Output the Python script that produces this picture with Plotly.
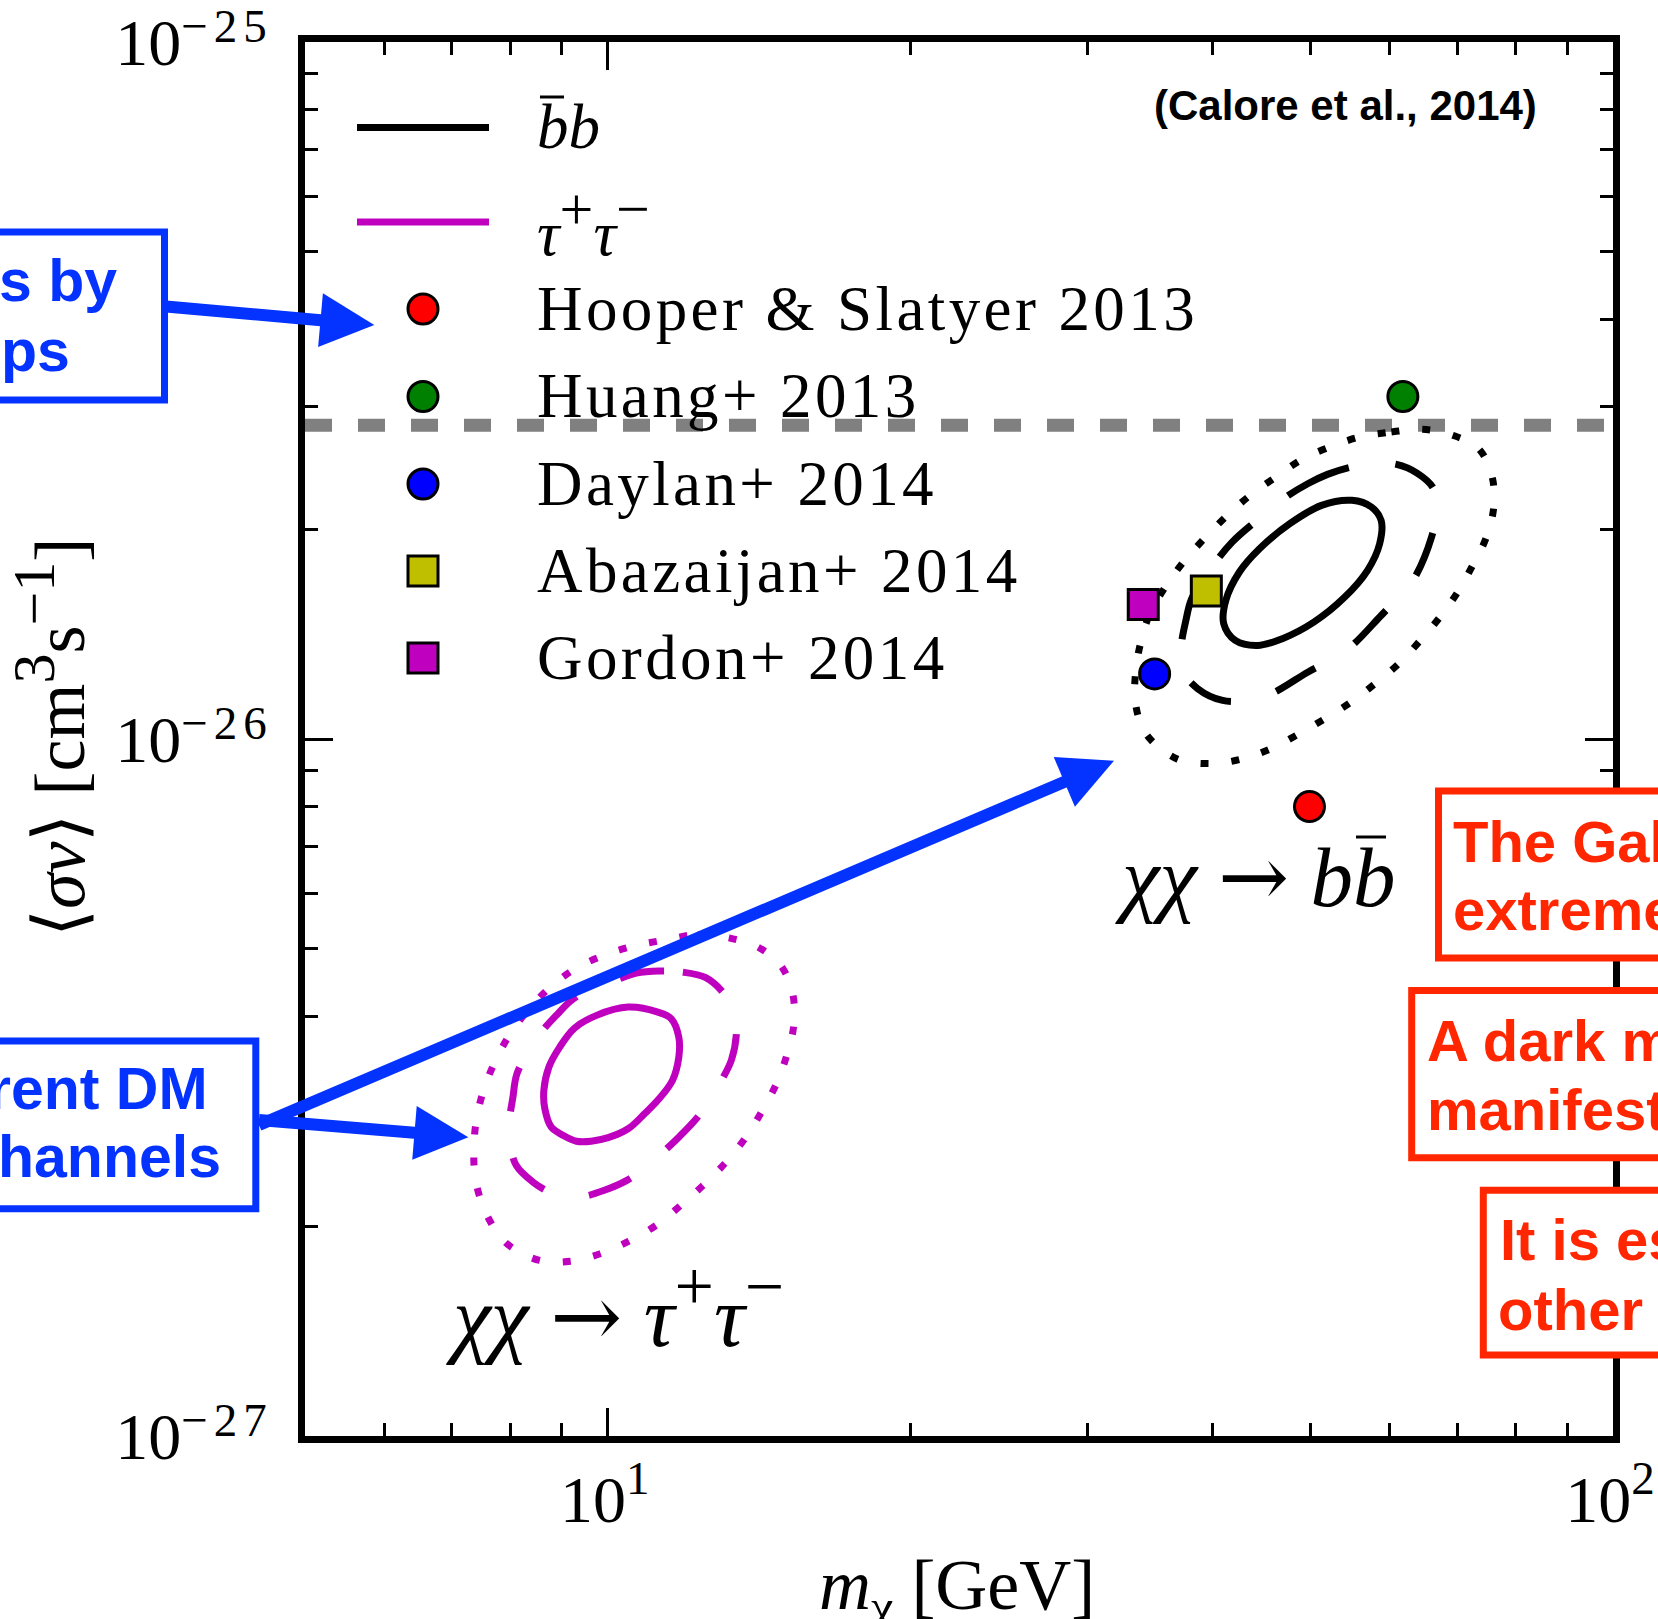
import numpy as np
import plotly.graph_objects as go

# ---------------- data ----------------
# dark-matter mass in GeV, <sigma v> in units of 1e-26 cm^3 s^-1
SV_UNIT = 1e-26

bb_1sigma_mass = [55.0, 51.3, 47.7, 44.5, 42.5, 41.2, 41.0, 42.1, 44.3, 46.9, 50.4, 54.1, 57.0, 58.6, 58.8, 57.5]
bb_1sigma_sv = [2.200, 2.164, 2.037, 1.875, 1.736, 1.581, 1.464, 1.385, 1.362, 1.393, 1.471, 1.598, 1.746, 1.906, 2.059, 2.152]

bb_2sigma_mass = [54.6, 52.0, 49.7, 47.4, 45.3, 41.8, 39.7, 38.1, 37.6, 37.2, 37.2, 38.6, 40.9, 43.2, 45.7, 49.7,
                  52.3, 54.8, 58.8, 61.2, 63.4, 66.0, 66.8, 66.3, 63.9, 60.9, 57.5]
bb_2sigma_sv = [2.451, 2.397, 2.324, 2.229, 2.116, 1.916, 1.746, 1.590, 1.480, 1.362, 1.262, 1.182, 1.136, 1.136,
                1.161, 1.247, 1.297, 1.355, 1.504, 1.597, 1.698, 1.949, 2.128, 2.287, 2.405, 2.477, 2.486]

bb_3sigma_mass = [56.0, 60.2, 64.6, 69.3, 73.5, 75.8, 76.1, 74.8, 72.5, 70.0, 67.2, 64.1, 61.1, 57.8, 54.6, 51.5,
                  48.4, 45.5, 42.5, 39.6, 36.8, 34.3, 33.5, 33.5, 33.9, 34.6, 35.9, 37.5, 39.3, 41.4, 43.6, 46.3,
                  49.0, 52.3]
bb_3sigma_sv = [2.712, 2.757, 2.782, 2.727, 2.610, 2.381, 2.152, 1.945, 1.774, 1.621, 1.493, 1.377, 1.279, 1.196,
                1.124, 1.066, 1.012, 0.966, 0.934, 0.922, 0.937, 1.018, 1.124, 1.243, 1.375, 1.509, 1.656, 1.804,
                1.945, 2.098, 2.239, 2.381, 2.516, 2.624]

tau_1sigma_mass = [10.48, 11.22, 11.57, 11.77, 11.77, 11.60, 11.25, 10.88, 10.48, 10.01, 9.63, 9.31, 9.03, 8.79,
                   8.66, 8.64, 8.74, 8.96, 9.27, 9.75]
tau_1sigma_sv = [0.4124, 0.4056, 0.3968, 0.3734, 0.3495, 0.3237, 0.3047, 0.2899, 0.2759, 0.2679, 0.2648, 0.2648,
                 0.2700, 0.2774, 0.2948, 0.3130, 0.3382, 0.3614, 0.3848, 0.4013]

tau_2sigma_mass = [11.25, 11.88, 12.52, 13.02, 13.38, 13.43, 13.28, 12.98, 12.65, 12.25, 11.79, 11.35, 10.93, 10.44,
                   9.91, 9.45, 8.99, 8.81, 8.43, 8.11, 7.99, 7.99, 8.05, 8.12, 8.33, 8.59, 8.89, 9.20, 9.67, 10.16,
                   10.68]
tau_2sigma_sv = [0.4645, 0.4629, 0.4545, 0.4333, 0.4080, 0.3777, 0.3466, 0.3237, 0.3037, 0.2852, 0.2690, 0.2554,
                 0.2431, 0.2325, 0.2250, 0.2206, 0.2201, 0.2226, 0.2313, 0.2445, 0.2654, 0.2852, 0.3063, 0.3301,
                 0.3553, 0.3797, 0.4013, 0.4216, 0.4396, 0.4504, 0.4614]

tau_3sigma_mass = [11.44, 12.30, 13.17, 14.11, 14.89, 15.29, 15.31, 15.06, 14.69, 14.22, 13.69, 13.07, 12.44, 11.79,
                   11.17, 10.50, 9.83, 9.18, 8.56, 8.02, 7.80, 7.54, 7.39, 7.36, 7.41, 7.54, 7.75, 8.02, 8.38, 8.81,
                   9.34, 9.97, 10.68]
tau_3sigma_sv = [0.5152, 0.5243, 0.5187, 0.5028, 0.4717, 0.4287, 0.3869, 0.3504, 0.3183, 0.2914, 0.2670, 0.2458,
                 0.2288, 0.2135, 0.2005, 0.1903, 0.1826, 0.1781, 0.1786, 0.1866, 0.1940, 0.2112, 0.2331, 0.2584,
                 0.2862, 0.3159, 0.3476, 0.3797, 0.4124, 0.4430, 0.4706, 0.4908, 0.5056]

study_names = ["Hooper & Slatyer 2013", "Huang+ 2013", "Daylan+ 2014", "Abazaijan+ 2014", "Gordon+ 2014"]
study_mass = [49.9, 61.8, 35.0, 39.4, 34.1]
study_sv = [0.80, 3.10, 1.24, 1.63, 1.56]
study_symbol = ["circle", "circle", "circle", "square", "square"]
study_color = ["#ff0000", "#008000", "#0000ff", "#bfbf00", "#bf00bf"]

relic_sv = 2.82
x_range = [5, 100]
y_range = [1e-27, 1e-25]
x_major = [10, 100]
x_major_exp = ["1", "2"]
x_minor = [6, 7, 8, 9, 20, 30, 40, 50, 60, 70, 80, 90]
y_major = [1e-27, 1e-26, 1e-25]
y_major_exp = ["\u221227", "\u221226", "\u221225"]
y_minor = [k * 1e-27 for k in range(2, 10)] + [k * 1e-26 for k in range(2, 10)]

# ---------------- layout helpers (pixel -> paper) ----------------
W, H = 1658, 1619
ML, MR, MT, MB = 305, 45, 42, 183
PW, PH = W - ML - MR, H - MT - MB

def fx(x):
    return (x - ML) / PW

def fy(y):
    return (H - MB - y) / PH

SERIF = "Liberation Serif"
SANS = "Liberation Sans"
BLUE = "#0433ff"
RED = "#ff2600"
MAG = "#bf00bf"
DASHED = "45px,47px"
DOTTED = "8px,23px"

def sup(t, size, spacing=0):
    return f'<sup><span style="font-size:{size}px;letter-spacing:{spacing}px">{t}</span></sup>'

def power(exp):
    return "10" + sup(exp, 47, 6)

def power_shift(exp):
    return ("10" + f'<span style="font-size:47px;letter-spacing:6px;baseline-shift:23px">{exp}</span>')

fig = go.Figure()

def add_contour(m, s, color, dash):
    fig.add_trace(go.Scatter(
        x=m + [m[0]], y=[v * SV_UNIT for v in s + [s[0]]], mode="lines",
        line=dict(color=color, width=7, dash=dash, shape="spline", smoothing=1.0),
        showlegend=False, hoverinfo="skip"))

# relic line
fig.add_trace(go.Scatter(x=x_range, y=[relic_sv * SV_UNIT] * 2, mode="lines",
                         line=dict(color="#808080", width=13, dash="27px,26px"),
                         showlegend=False, hoverinfo="skip"))

add_contour(bb_1sigma_mass, bb_1sigma_sv, "black", "solid")
add_contour(bb_2sigma_mass, bb_2sigma_sv, "black", DASHED)
add_contour(bb_3sigma_mass, bb_3sigma_sv, "black", DOTTED)
add_contour(tau_1sigma_mass, tau_1sigma_sv, MAG, "solid")
add_contour(tau_2sigma_mass, tau_2sigma_sv, MAG, DASHED)
add_contour(tau_3sigma_mass, tau_3sigma_sv, MAG, DOTTED)

for n, m, s, sym, c in zip(study_names, study_mass, study_sv, study_symbol, study_color):
    fig.add_trace(go.Scatter(x=[m], y=[s * SV_UNIT], mode="markers", name=n,
                             marker=dict(symbol=sym, size=30, color=c, line=dict(color="black", width=3)),
                             showlegend=False))

shapes = []
annotations = []

def text(t, x, y, size, color="black", family=SERIF, xanchor="left", angle=0):
    annotations.append(dict(text=t, x=fx(x), y=fy(y), xref="paper", yref="paper", showarrow=False,
                            font=dict(family=family, size=size, color=color), xanchor=xanchor,
                            yanchor="middle", textangle=angle, borderpad=0))

def hline(x0, x1, y, color="black", width=3):
    shapes.append(dict(type="line", xref="paper", yref="paper", x0=fx(x0), x1=fx(x1), y0=fy(y), y1=fy(y),
                       line=dict(color=color, width=width), layer="above"))

def box(x0, y0, x1, y1, color):
    shapes.append(dict(type="rect", xref="paper", yref="paper", x0=fx(x0), y0=fy(y0), x1=fx(x1), y1=fy(y1),
                       line=dict(color=color, width=7), fillcolor="white", layer="above"))

def arrow(tail, tip, width=12, head_len=54, head_w=54, color=BLUE):
    tx, ty = tail
    hx, hy = tip
    dx, dy = hx - tx, hy - ty
    n = (dx * dx + dy * dy) ** 0.5
    ux, uy = dx / n, dy / n
    bx, by = hx - ux * head_len, hy - uy * head_len
    nx, ny = -uy, ux
    c1 = (bx + nx * head_w / 2, by + ny * head_w / 2)
    c2 = (bx - nx * head_w / 2, by - ny * head_w / 2)
    shapes.append(dict(type="line", xref="paper", yref="paper", x0=fx(tx), y0=fy(ty),
                       x1=fx(bx + ux * 3), y1=fy(by + uy * 3), line=dict(color=color, width=width), layer="above"))
    shapes.append(dict(type="path", xref="paper", yref="paper",
                       path=f"M{fx(hx)},{fy(hy)} L{fx(c1[0])},{fy(c1[1])} L{fx(c2[0])},{fy(c2[1])} Z",
                       fillcolor=color, line=dict(width=0), layer="above"))

LS = '<span style="letter-spacing:3.4px">{}</span>'
ARROW = '<span style="font-family:DejaVu Serif">\u2192</span>'

# legend (drawn manually to reproduce the large matplotlib-style symbols)
leg_rows = [127.5, 222, 309, 396.5, 484, 571, 658]
hline(357, 489, leg_rows[0], "black", 7)
hline(357, 489, leg_rows[1], MAG, 7)
text("<i>bb</i>", 536, leg_rows[0], 63)
hline(540, 564, 97)
text("<i>\u03c4</i>" + sup("+", 60) + "<i>\u03c4</i>" + sup("\u2212", 60), 536, leg_rows[1], 63)
for i, (n, sym, c) in enumerate(zip(study_names, study_symbol, study_color)):
    yr = leg_rows[2 + i]
    shapes.append(dict(type="circle" if sym == "circle" else "rect", xref="paper", yref="paper",
                       xsizemode="pixel", ysizemode="pixel", xanchor=fx(423), yanchor=fy(yr),
                       x0=-15, x1=15, y0=-15, y1=15, fillcolor=c, line=dict(color="black", width=3),
                       layer="above"))
    text(LS.format(n.replace("&", "&amp;")), 536, yr, 63)

text("<b>(Calore et al., 2014)</b>", 1345, 106, 42, family=SANS, xanchor="center")

# channel labels
text("<i>\u03c7\u03c7</i> " + ARROW + " <i>bb</i>", 1255, 876, 85, xanchor="center")
hline(1356, 1386, 837)
text("<i>\u03c7\u03c7</i> " + ARROW + " <i>\u03c4</i>" + sup("+", 70) + "<i>\u03c4</i>" + sup("\u2212", 70),
     615, 1307, 86, xanchor="center")

# axis titles
text("\u27e8<i>\u03c3v</i>\u27e9 [cm" + sup("3", 60) + "s" + sup("\u22121", 60) + "]", 50, 738, 72,
     xanchor="center", angle=-90)
text("<i>m</i><sub>\u03c7</sub> [GeV]", 957, 1590, 72, xanchor="center")

# slide call-out boxes (cropped at the page edges)
box(-60, 232, 164.5, 400, BLUE)
text("<b>s by</b>", -2, 281, 59, BLUE, SANS)
text("<b>ps</b>", 0, 351, 59, BLUE, SANS)
box(-60, 1041, 255.8, 1208.7, BLUE)
text("<b>rent DM</b>", -13, 1089, 59, BLUE, SANS)
text("<b>hannels</b>", -3, 1157, 59, BLUE, SANS)

box(1438.5, 791, 1720, 958, RED)
text("<b>The Gal</b>", 1452, 841, 58, RED, SANS)
text("<b>extreme</b>", 1452, 909, 58, RED, SANS)
box(1411.7, 990.6, 1720, 1157.7, RED)
text("<b>A dark m</b>", 1426, 1040, 58, RED, SANS)
text("<b>manifest</b>", 1426, 1109, 58, RED, SANS)
box(1483.3, 1190.3, 1720, 1355, RED)
text("<b>It is es</b>", 1499, 1239, 58, RED, SANS)
text("<b>other</b>", 1497, 1309, 58, RED, SANS)

arrow((166, 306.5), (374.3, 325))
arrow((259, 1125), (1114, 760.7))
arrow((259, 1120), (468.3, 1137.3))

axis_common = dict(type="log", showline=True, linewidth=7, linecolor="black", mirror="ticks",
                   ticks="inside", ticklen=28, tickwidth=3, tickcolor="black", showgrid=False,
                   zeroline=False, automargin=False, fixedrange=True, tickmode="array",
                   ticklabeloverflow="allow",
                   tickfont=dict(family=SERIF, size=66, color="black"))

fig.update_layout(
    width=W, height=H, template="none",
    margin=dict(l=ML, r=MR, t=MT, b=MB, pad=0, autoexpand=False),
    paper_bgcolor="white", plot_bgcolor="white", showlegend=False,
    xaxis=dict(**axis_common, range=[np.log10(x_range[0]), np.log10(x_range[1])],
               tickvals=x_major, ticktext=[power(e) for e in x_major_exp], ticklabelstandoff=0,
               minor=dict(tickmode="array", tickvals=x_minor, ticks="inside", ticklen=13, tickwidth=3,
                          tickcolor="black", showgrid=False)),
    yaxis=dict(**axis_common, range=[np.log10(y_range[0]), np.log10(y_range[1])],
               tickvals=y_major, ticktext=[power_shift(e) for e in y_major_exp], ticklabelstandoff=12,
               minor=dict(tickmode="array", tickvals=y_minor, ticks="inside", ticklen=13, tickwidth=3,
                          tickcolor="black", showgrid=False)),
    shapes=shapes, annotations=annotations,
)

fig.write_html("out.html")
